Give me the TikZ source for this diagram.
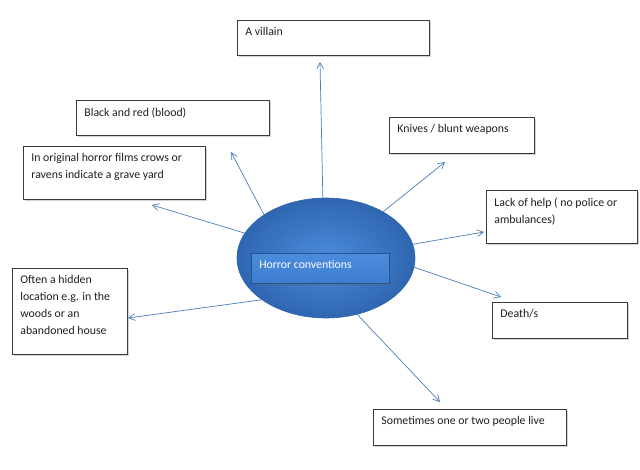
\documentclass[tikz,border=0pt]{standalone}
\usepackage{fontspec}
\setmainfont{Carlito}
\usetikzlibrary{arrows.meta,shapes.geometric,shadows}
\definecolor{hcLinea}{HTML}{4A7EBB}
\definecolor{hcAzul}{HTML}{3D7DD0}
\definecolor{hcAzulOsc}{HTML}{2F66B0}
\definecolor{hcAzulClaro}{HTML}{4C8CDC}
\definecolor{hcBorde}{HTML}{3A3A3A}
\definecolor{hcTexto}{HTML}{1F1F1F}
\newcommand{\cajatexto}[3]{\parbox[c][#2pt][t]{#1pt}{\raggedright\leftskip=8pt\relax\vspace*{7pt}#3}}

\begin{document}
\begin{tikzpicture}[x=1pt, y=-1pt,
      nota/.style={draw=hcBorde, line width=0.8pt, fill=white, inner sep=0pt,
                   anchor=north west, text=hcTexto,
                   drop shadow={shadow xshift=1.2pt, shadow yshift=-1.5pt,
                                fill=black!35, opacity=0.5}},
      rayo/.style={-{Straight Barb[length=2.2mm, width=2.4mm]}, hcLinea, line width=0.7pt},
      every node/.style={font=\fontsize{11.8}{17}\selectfont}]
    \fill[white] (0,0) rectangle (640,470);
    \useasboundingbox (0,0) rectangle (640,470);
    % centro
    \node[ellipse, minimum width=178pt, minimum height=120pt, inner sep=0pt,
          draw=hcAzulOsc, line width=0.6pt, inner color=hcAzulClaro, outer color=hcAzulOsc] (hub) at (326,258) {};
    \node[draw=hcAzulOsc!80!black, line width=0.5pt, top color=hcAzulClaro, bottom color=hcAzul,
          inner sep=0pt, anchor=north west, text=white,
          drop shadow={shadow xshift=1pt, shadow yshift=-1.5pt, fill=black!60, opacity=0.5}]
          (titulo) at (251,253) {\cajatexto{138}{30}{Horror conventions}};
    % recuadros
    \node[nota] (villano) at (237,20)  {\cajatexto{192}{35}{A villain}};
    \node[nota] (sangre)  at (76,100)  {\cajatexto{193}{35}{Black and red (blood)}};
    \node[nota] (cuervos) at (23,146)  {\cajatexto{182}{53}{In original horror films crows or\\ ravens indicate a grave yard}};
    \node[nota] (armas)   at (389,117) {\cajatexto{145}{36}{Knives / blunt weapons}};
    \node[nota] (ayuda)   at (486,190) {\cajatexto{151}{53}{Lack of help ( no police or\\ ambulances)}};
    \node[nota] (lugar)   at (12,268)  {\cajatexto{115}{86}{Often a hidden\\ location e.g. in the\\ woods or an\\ abandoned house}};
    \node[nota] (muerte)  at (492,302) {\cajatexto{135}{36}{Death/s}};
    \node[nota] (vivos)   at (373,409) {\cajatexto{193}{36}{Sometimes one or two people live}};
    % puntas de las flechas
    \coordinate (pVillano) at (320,62);
    \coordinate (pSangre)  at (231,152);
    \coordinate (pCuervos) at (152,205);
    \coordinate (pArmas)   at (445,162);
    \coordinate (pAyuda)   at (484,232);
    \coordinate (pMuerte)  at (501,297);
    \coordinate (pVivos)   at (440,402);
    \coordinate (pLugar)   at (128,318);
    \draw[rayo] (hub.93)  -- (pVillano);
    \draw[rayo] (hub.145) -- (pSangre);
    \draw[rayo] (hub.163) -- (pCuervos);
    \draw[rayo] (hub.39)  -- (pArmas);
    \draw[rayo] (hub.9)   -- (pAyuda);
    \draw[rayo] (hub.-6)  -- (pMuerte);
    \draw[rayo] (hub.-61) -- (pVivos);
    \draw[rayo] (hub.213) -- (pLugar);
  \end{tikzpicture}
\end{document}
